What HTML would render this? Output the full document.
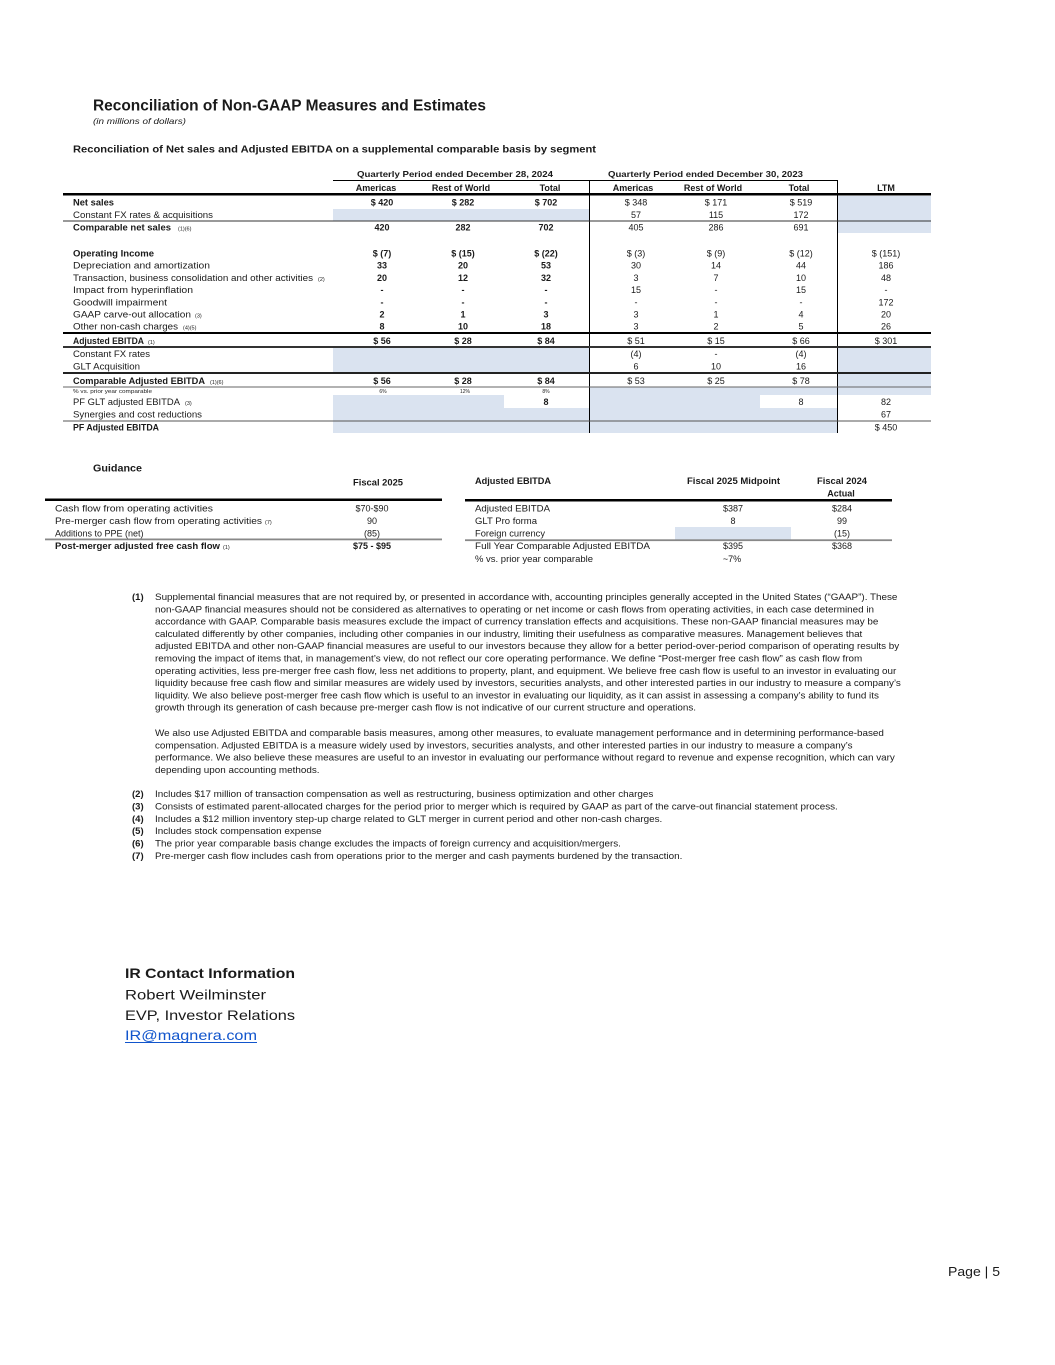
<!DOCTYPE html>
<html><head><meta charset="utf-8"><style>
html,body{margin:0;padding:0;background:#fff;}
svg{display:block;}
.t{font-family:"Liberation Sans",Arial,sans-serif;fill:#1a1a1a;}
.b{font-weight:bold;}
.f9{font-size:9px;}
.f85{font-size:8.5px;}
.sm{font-size:5.5px;}
.c{text-anchor:middle;}
</style></head><body>
<svg width="1055" height="1365" viewBox="0 0 1055 1365" xmlns="http://www.w3.org/2000/svg">
<rect x="0" y="0" width="1055" height="1365" fill="#fff"/>
<g class="t">
<text x="93" y="110.5" class="b" font-size="15.5" textLength="393" lengthAdjust="spacingAndGlyphs">Reconciliation of Non-GAAP Measures and Estimates</text>
<text x="93" y="124" font-size="8.5" font-style="italic" textLength="93" lengthAdjust="spacingAndGlyphs">(in millions of dollars)</text>
<text x="73" y="152.5" class="b" font-size="10" textLength="523" lengthAdjust="spacingAndGlyphs">Reconciliation of Net sales and Adjusted EBITDA on a supplemental comparable basis by segment</text>
</g>

<g fill="#dae3f0">
<rect x="333" y="209" width="256" height="12"/>
<rect x="837.5" y="196" width="93.5" height="37"/>
<rect x="333" y="348" width="256" height="24"/>
<rect x="837.5" y="348" width="93.5" height="47"/>
<rect x="589.5" y="387" width="248" height="8"/>
<rect x="333" y="395" width="171" height="13"/>
<rect x="589.5" y="395" width="170.5" height="13"/>
<rect x="333" y="408" width="504.5" height="25"/>
<rect x="675" y="527" width="116" height="12.5"/>
</g>

<g fill="#000">
<rect x="333" y="180" width="505" height="1"/>
<rect x="589" y="180" width="1" height="253"/>
<rect x="837" y="180" width="1" height="253"/>
<rect x="63" y="193" width="868" height="2.5"/>
<rect x="63" y="220.5" width="868" height="1" fill="#333"/>
<rect x="63" y="332" width="868" height="2"/>
<rect x="63" y="346" width="868" height="2" fill="#333"/>
<rect x="63" y="372" width="868" height="2" fill="#222"/>
<rect x="63" y="386.5" width="868" height="1" fill="#666"/>
<rect x="63" y="420.5" width="868" height="1" fill="#555"/>
<rect x="45" y="498.5" width="397" height="2.5"/>
<rect x="45" y="538.5" width="397" height="1.8" fill="#888"/>
<rect x="465" y="499" width="427" height="2.5"/>
<rect x="465" y="539.3" width="427" height="1.8" fill="#888"/>
</g>

<g class="t">
<text x="455" y="177" class="b f85 c" textLength="196" lengthAdjust="spacingAndGlyphs">Quarterly Period ended December 28, 2024</text>
<text x="705.5" y="177" class="b f85 c" textLength="195" lengthAdjust="spacingAndGlyphs">Quarterly Period ended December 30, 2023</text>
<text x="376" y="191" class="b f9 c">Americas</text>
<text x="461" y="191" class="b f9 c">Rest of World</text>
<text x="550" y="191" class="b f9 c">Total</text>
<text x="633" y="191" class="b f9 c">Americas</text>
<text x="713" y="191" class="b f9 c">Rest of World</text>
<text x="799" y="191" class="b f9 c">Total</text>
<text x="886" y="191" class="b f9 c">LTM</text>

<text x="73" y="205.5" class="b f9" textLength="41" lengthAdjust="spacingAndGlyphs">Net sales</text>
<text x="73" y="217.8" class="f9" textLength="140" lengthAdjust="spacingAndGlyphs">Constant FX rates &amp; acquisitions</text>
<text x="73" y="230.3" class="b f9" textLength="98" lengthAdjust="spacingAndGlyphs">Comparable net sales</text>
<text x="178" y="230.3" class="sm">(1)(6)</text>
<text x="73" y="256.5" class="b f9" textLength="81" lengthAdjust="spacingAndGlyphs">Operating Income</text>
<text x="73" y="268.7" class="f9" textLength="137" lengthAdjust="spacingAndGlyphs">Depreciation and amortization</text>
<text x="73" y="280.9" class="f9" textLength="240" lengthAdjust="spacingAndGlyphs">Transaction, business consolidation and other activities</text>
<text x="318" y="280.9" class="sm">(2)</text>
<text x="73" y="293.1" class="f9" textLength="120" lengthAdjust="spacingAndGlyphs">Impact from hyperinflation</text>
<text x="73" y="305.3" class="f9" textLength="94" lengthAdjust="spacingAndGlyphs">Goodwill impairment</text>
<text x="73" y="317.5" class="f9" textLength="118" lengthAdjust="spacingAndGlyphs">GAAP carve-out allocation</text>
<text x="195" y="317.5" class="sm">(3)</text>
<text x="73" y="329.7" class="f9" textLength="105" lengthAdjust="spacingAndGlyphs">Other non-cash charges</text>
<text x="183" y="329.7" class="sm">(4)(5)</text>
<text x="73" y="344" class="b f9" textLength="71" lengthAdjust="spacingAndGlyphs">Adjusted EBITDA</text>
<text x="148" y="344" class="sm">(1)</text>
<text x="73" y="357" class="f9" textLength="77" lengthAdjust="spacingAndGlyphs">Constant FX rates</text>
<text x="73" y="369.5" class="f9" textLength="67" lengthAdjust="spacingAndGlyphs">GLT Acquisition</text>
<text x="73" y="384" class="b f9" textLength="132" lengthAdjust="spacingAndGlyphs">Comparable Adjusted EBITDA</text>
<text x="210" y="384" class="sm">(1)(6)</text>
<text x="73" y="393" font-size="5" textLength="79" lengthAdjust="spacingAndGlyphs">% vs. prior year comparable</text>
<text x="73" y="405" class="f9" textLength="107" lengthAdjust="spacingAndGlyphs">PF GLT adjusted EBITDA</text>
<text x="185" y="405" class="sm">(3)</text>
<text x="73" y="417.5" class="f9" textLength="129" lengthAdjust="spacingAndGlyphs">Synergies and cost reductions</text>
<text x="73" y="430.5" class="b f9" textLength="86" lengthAdjust="spacingAndGlyphs">PF Adjusted EBITDA</text>

<g class="b f9 c">
<text x="382" y="205.5">$ 420</text><text x="463" y="205.5">$ 282</text><text x="546" y="205.5">$ 702</text>
<text x="382" y="230.3">420</text><text x="463" y="230.3">282</text><text x="546" y="230.3">702</text>
<text x="382" y="256.5">$ (7)</text><text x="463" y="256.5">$ (15)</text><text x="546" y="256.5">$ (22)</text>
<text x="382" y="268.7">33</text><text x="463" y="268.7">20</text><text x="546" y="268.7">53</text>
<text x="382" y="280.9">20</text><text x="463" y="280.9">12</text><text x="546" y="280.9">32</text>
<text x="382" y="293.1">-</text><text x="463" y="293.1">-</text><text x="546" y="293.1">-</text>
<text x="382" y="305.3">-</text><text x="463" y="305.3">-</text><text x="546" y="305.3">-</text>
<text x="382" y="317.5">2</text><text x="463" y="317.5">1</text><text x="546" y="317.5">3</text>
<text x="382" y="329.7">8</text><text x="463" y="329.7">10</text><text x="546" y="329.7">18</text>
<text x="382" y="344">$ 56</text><text x="463" y="344">$ 28</text><text x="546" y="344">$ 84</text>
<text x="382" y="384">$ 56</text><text x="463" y="384">$ 28</text><text x="546" y="384">$ 84</text>
<text x="546" y="405">8</text>
</g>
<g class="c" font-size="5">
<text x="383" y="393">6%</text><text x="465" y="393">12%</text><text x="546" y="393">8%</text>
</g>

<g class="f9 c">
<text x="636" y="205.5">$ 348</text><text x="716" y="205.5">$ 171</text><text x="801" y="205.5">$ 519</text>
<text x="636" y="217.8">57</text><text x="716" y="217.8">115</text><text x="801" y="217.8">172</text>
<text x="636" y="230.3">405</text><text x="716" y="230.3">286</text><text x="801" y="230.3">691</text>
<text x="636" y="256.5">$ (3)</text><text x="716" y="256.5">$ (9)</text><text x="801" y="256.5">$ (12)</text><text x="886" y="256.5">$ (151)</text>
<text x="636" y="268.7">30</text><text x="716" y="268.7">14</text><text x="801" y="268.7">44</text><text x="886" y="268.7">186</text>
<text x="636" y="280.9">3</text><text x="716" y="280.9">7</text><text x="801" y="280.9">10</text><text x="886" y="280.9">48</text>
<text x="636" y="293.1">15</text><text x="716" y="293.1">-</text><text x="801" y="293.1">15</text><text x="886" y="293.1">-</text>
<text x="636" y="305.3">-</text><text x="716" y="305.3">-</text><text x="801" y="305.3">-</text><text x="886" y="305.3">172</text>
<text x="636" y="317.5">3</text><text x="716" y="317.5">1</text><text x="801" y="317.5">4</text><text x="886" y="317.5">20</text>
<text x="636" y="329.7">3</text><text x="716" y="329.7">2</text><text x="801" y="329.7">5</text><text x="886" y="329.7">26</text>
<text x="636" y="344">$ 51</text><text x="716" y="344">$ 15</text><text x="801" y="344">$ 66</text><text x="886" y="344">$ 301</text>
<text x="636" y="357">(4)</text><text x="716" y="357">-</text><text x="801" y="357">(4)</text>
<text x="636" y="369.5">6</text><text x="716" y="369.5">10</text><text x="801" y="369.5">16</text>
<text x="636" y="384">$ 53</text><text x="716" y="384">$ 25</text><text x="801" y="384">$ 78</text>
<text x="801" y="405">8</text><text x="886" y="405">82</text>
<text x="886" y="417.5">67</text>
<text x="886" y="430.5">$ 450</text>
</g>

<text x="93" y="471.5" class="b" font-size="10" textLength="49" lengthAdjust="spacingAndGlyphs">Guidance</text>
<text x="378" y="485.5" class="b f9 c" textLength="50" lengthAdjust="spacingAndGlyphs">Fiscal 2025</text>
<text x="55" y="511.5" class="f9" textLength="158" lengthAdjust="spacingAndGlyphs">Cash flow from operating activities</text>
<text x="55" y="524" class="f9" textLength="207" lengthAdjust="spacingAndGlyphs">Pre-merger cash flow from operating activities</text>
<text x="265" y="524" class="sm">(7)</text>
<text x="55" y="536.5" class="f9">Additions to PPE (net)</text>
<text x="55" y="549" class="b f9" textLength="165" lengthAdjust="spacingAndGlyphs">Post-merger adjusted free cash flow</text>
<text x="223" y="549" class="sm">(1)</text>
<text x="372" y="511.5" class="f9 c">$70-$90</text>
<text x="372" y="524" class="f9 c">90</text>
<text x="372" y="536.5" class="f9 c">(85)</text>
<text x="372" y="549" class="b f9 c">$75 - $95</text>

<text x="475" y="484" class="b f9" textLength="76" lengthAdjust="spacingAndGlyphs">Adjusted EBITDA</text>
<text x="733.5" y="484" class="b f9 c" textLength="93" lengthAdjust="spacingAndGlyphs">Fiscal 2025 Midpoint</text>
<text x="842" y="484" class="b f9 c" textLength="50" lengthAdjust="spacingAndGlyphs">Fiscal 2024</text>
<text x="841" y="496.5" class="b f9 c">Actual</text>
<text x="475" y="511.5" class="f9" textLength="75" lengthAdjust="spacingAndGlyphs">Adjusted EBITDA</text>
<text x="475" y="524" class="f9" textLength="62" lengthAdjust="spacingAndGlyphs">GLT Pro forma</text>
<text x="475" y="536.5" class="f9" textLength="70" lengthAdjust="spacingAndGlyphs">Foreign currency</text>
<text x="475" y="549" class="f9" textLength="175" lengthAdjust="spacingAndGlyphs">Full Year Comparable Adjusted EBITDA</text>
<text x="475" y="562" class="f9" textLength="118" lengthAdjust="spacingAndGlyphs">% vs. prior year comparable</text>
<g class="f9 c">
<text x="733" y="511.5">$387</text><text x="842" y="511.5">$284</text>
<text x="733" y="524">8</text><text x="842" y="524">99</text>
<text x="842" y="536.5">(15)</text>
<text x="733" y="549">$395</text><text x="842" y="549">$368</text>
<text x="732" y="562">~7%</text>
</g>

<text x="132" y="600" class="b" font-size="9.5">(1)</text>
<g font-size="9.3" transform="translate(155,0) scale(1.062,1) translate(-155,0)">
<text x="155" y="600">Supplemental financial measures that are not required by, or presented in accordance with, accounting principles generally accepted in the United States (“GAAP”).  These</text>
<text x="155" y="612.3">non-GAAP financial measures should not be considered as alternatives to operating or net income or cash flows from operating activities, in each case determined in</text>
<text x="155" y="624.6">accordance with GAAP.  Comparable basis measures exclude the impact of currency translation effects and acquisitions.  These non-GAAP financial measures may be</text>
<text x="155" y="636.9">calculated differently by other companies, including other companies in our industry, limiting their usefulness as comparative measures.  Management believes that</text>
<text x="155" y="649.2">adjusted EBITDA and other non-GAAP financial measures are useful to our investors because they allow for a better period-over-period comparison of operating results by</text>
<text x="155" y="661.5">removing the impact of items that, in management’s view, do not reflect our core operating performance.   We define “Post-merger free cash flow” as cash flow from</text>
<text x="155" y="673.8">operating activities, less pre-merger free cash flow, less net additions to property, plant, and equipment.  We believe free cash flow is useful to an investor in evaluating our</text>
<text x="155" y="686.1">liquidity because free cash flow and similar measures are widely used by investors, securities analysts, and other interested parties in our industry to measure a company’s</text>
<text x="155" y="698.4">liquidity.  We also believe post-merger free cash flow which is useful to an investor in evaluating our liquidity, as it can assist in assessing a company’s ability to fund its</text>
<text x="155" y="710.7">growth through its generation of cash because pre-merger cash flow is not indicative of our current structure and operations.</text>

<text x="155" y="736">We also use Adjusted EBITDA and comparable basis measures, among other measures, to evaluate management performance and in determining performance-based</text>
<text x="155" y="748.3">compensation.  Adjusted EBITDA is a measure widely used by investors, securities analysts, and other interested parties in our industry to measure a company’s</text>
<text x="155" y="760.6">performance.  We also believe these measures are useful to an investor in evaluating our performance without regard to revenue and expense recognition, which can vary</text>
<text x="155" y="772.9">depending upon accounting methods.</text>

<text x="155" y="797">Includes $17 million of transaction compensation as well as restructuring, business optimization and other charges</text>
<text x="155" y="809.4">Consists of estimated parent-allocated charges for the period prior to merger which is required by GAAP as part of the carve-out financial statement process.</text>
<text x="155" y="821.8">Includes a $12 million inventory step-up charge related to GLT merger in current period and other non-cash charges.</text>
<text x="155" y="834.2">Includes stock compensation expense</text>
<text x="155" y="846.6">The prior year comparable basis change excludes the impacts of foreign currency and acquisition/mergers.</text>
<text x="155" y="859">Pre-merger cash flow includes cash from operations prior to the merger and cash payments burdened by the transaction.</text>
</g>
<g class="b" font-size="9.5">
<text x="132" y="797">(2)</text>
<text x="132" y="809.4">(3)</text>
<text x="132" y="821.8">(4)</text>
<text x="132" y="834.2">(5)</text>
<text x="132" y="846.6">(6)</text>
<text x="132" y="859">(7)</text>
</g>

<text x="125" y="978" class="b" font-size="14" textLength="170" lengthAdjust="spacingAndGlyphs">IR Contact Information</text>
<text x="125" y="999.5" font-size="14" textLength="141" lengthAdjust="spacingAndGlyphs">Robert Weilminster</text>
<text x="125" y="1020" font-size="14" textLength="170" lengthAdjust="spacingAndGlyphs">EVP, Investor Relations</text>
<text x="125" y="1040" font-size="14" style="fill:#1155cc" textLength="132" lengthAdjust="spacingAndGlyphs">IR@magnera.com</text>
<rect x="125" y="1042" width="132" height="1" fill="#1155cc"/>

<text x="948" y="1276" font-size="13" textLength="52" lengthAdjust="spacingAndGlyphs">Page | 5</text>
</g>
</svg>
</body></html>
